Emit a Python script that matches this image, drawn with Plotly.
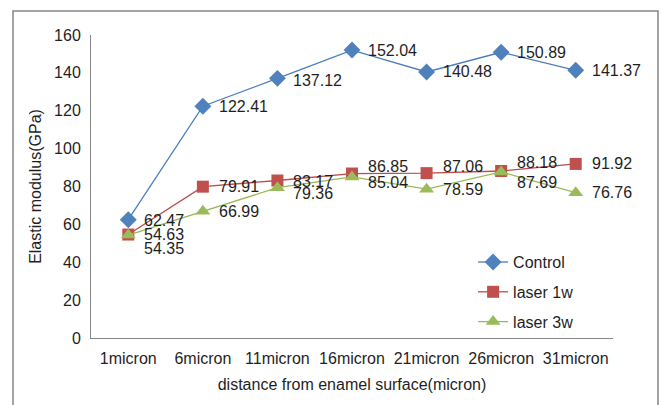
import plotly.graph_objects as go

categories = ["1micron", "6micron", "11micron", "16micron", "21micron", "26micron", "31micron"]
control = [62.47, 122.41, 137.12, 152.04, 140.48, 150.89, 141.37]
laser1w = [54.63, 79.91, 83.17, 86.85, 87.06, 88.18, 91.92]
laser3w = [54.35, 66.99, 79.36, 85.04, 78.59, 87.69, 76.76]

# vertical label offsets (pixels, positive = downward) to mimic the original label placement
off_control = [1, 0, 2, 0, 0, 0, 0]
off_l1 = [0, 0, 1, -7, -7, -9, 0]
off_l3 = [13, 0, 6, 6, 0, 11, 0]

FONT = "Liberation Sans, Arial, sans-serif"
TXT = "#1f1f1f"
FS = 16

fig = go.Figure()
series = [
    ("Control", control, "#4A7EBB", "#4F81BD", "diamond", 13, off_control),
    ("laser 1w", laser1w, "#BE4B48", "#C0504D", "square", 12, off_l1),
    ("laser 3w", laser3w, "#98B954", "#9BBB59", "triangle-up", 13, off_l3),
]
annotations = []
for name, vals, lc, mc, sym, ms, offs in series:
    fig.add_trace(go.Scatter(
        x=categories, y=vals, name=name, legendgroup=name,
        mode="lines+markers",
        line=dict(color=lc, width=1.3),
        marker=dict(symbol=sym, size=ms, color=mc),
        cliponaxis=False,
    ))
    for c, v, o in zip(categories, vals, offs):
        annotations.append(dict(
            x=c, y=v, xref="x", yref="y", text=f"{v:.2f}", showarrow=False,
            xanchor="left", yanchor="middle", xshift=14, yshift=-o,
            font=dict(family=FONT, size=FS, color=TXT),
        ))

fig.update_layout(
    width=661, height=405,
    margin=dict(l=91, r=48, t=35, b=67, autoexpand=False),
    paper_bgcolor="white", plot_bgcolor="white",
    font=dict(family=FONT, size=FS, color=TXT),
    showlegend=True,
    legend=dict(x=0.732, y=0.3066, xanchor="left", yanchor="top",
                bgcolor="rgba(0,0,0,0)", tracegroupgap=6,
                font=dict(family=FONT, size=FS, color=TXT)),
    xaxis=dict(range=[-0.5, 6.5], showgrid=False, zeroline=False, showline=True,
               linecolor="#868686", linewidth=1, ticks="", tickfont=dict(size=FS),
               automargin=False, ticklabelstandoff=6,
               title=dict(text="distance from enamel surface(micron)", standoff=12,
                          font=dict(size=FS))),
    yaxis=dict(range=[0, 160], dtick=20, showgrid=False, zeroline=False, showline=True,
               linecolor="#868686", linewidth=1, ticks="", tickfont=dict(size=FS),
               ticklabelstandoff=6, automargin=False,
               title=dict(text="Elastic modulus(GPa)", standoff=8, font=dict(size=FS))),
    annotations=annotations,
    shapes=[dict(type="rect", xref="paper", yref="paper",
                 x0=-0.1494, x1=1.0862, y0=-0.30, y1=1.0792,
                 line=dict(color="#868686", width=1.5), layer="below")],
)

fig.write_html("out.html", config={"displayModeBar": False},
               post_script="document.body.style.margin='0';")
